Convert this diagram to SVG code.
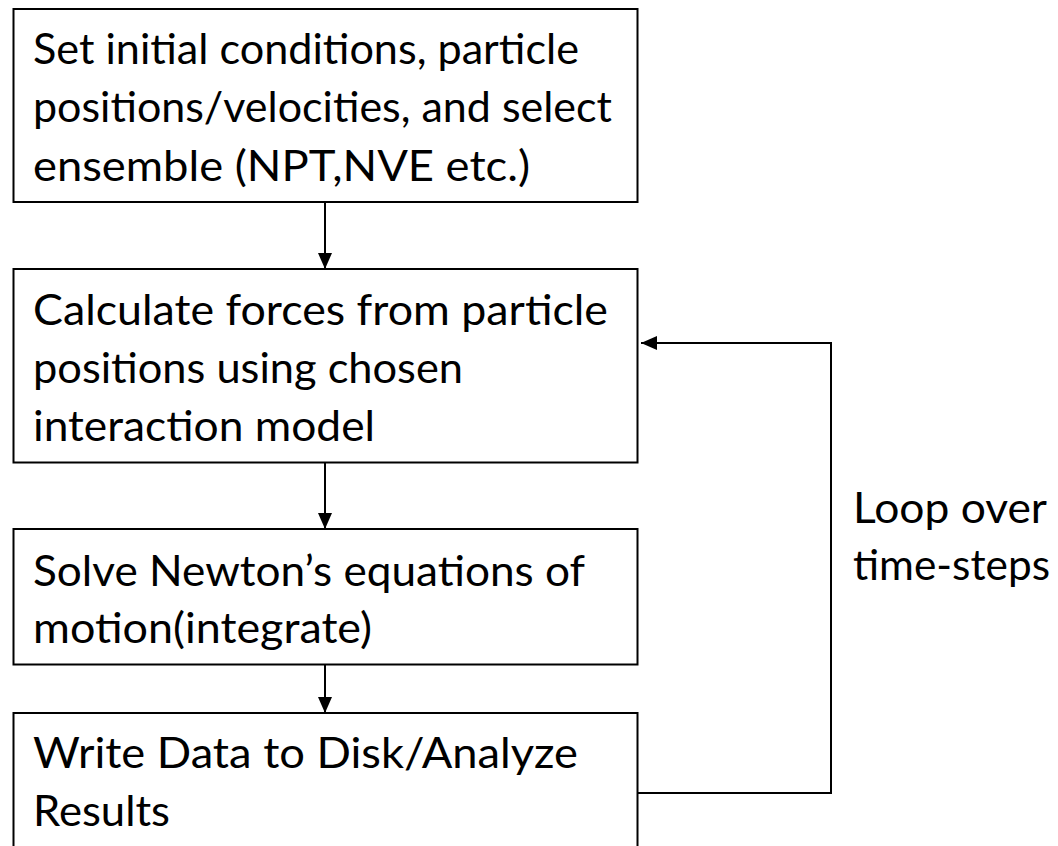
<svg xmlns="http://www.w3.org/2000/svg" width="1058" height="846" viewBox="0 0 1058 846">
  <defs>
    <style>
      .box { fill: #ffffff; stroke: #000000; stroke-width: 2; }
      .lbl { font-family: Lato, "Open Sans", "Liberation Sans", sans-serif; font-size: 43px; fill: #000000; }
      .wire { fill: none; stroke: #000000; stroke-width: 2; }
    </style>
    <marker id="arrow" viewBox="0 0 16 14" refX="16" refY="7" markerWidth="16" markerHeight="14" markerUnits="userSpaceOnUse" orient="auto">
      <path d="M0,0 L16,7 L0,14 Z" fill="#000000"/>
    </marker>
  </defs>
  <rect width="1058" height="846" fill="#ffffff"/>

  <!-- flow connectors -->
  <g id="connectors">
    <line class="wire" x1="325" y1="202" x2="325" y2="269" marker-end="url(#arrow)"/>
    <line class="wire" x1="325" y1="463" x2="325" y2="529" marker-end="url(#arrow)"/>
    <line class="wire" x1="325" y1="665" x2="325" y2="713" marker-end="url(#arrow)"/>
    <polyline class="wire" points="638,793 831,793 831,343 641,343" marker-end="url(#arrow)"/>
  </g>

  <g id="node-init">
    <rect class="box" x="13.5" y="9" width="624" height="193"/>
    <text class="lbl" x="33" y="64" textLength="546" lengthAdjust="spacingAndGlyphs">Set initial conditions, particle</text>
    <text class="lbl" x="33" y="122" textLength="579" lengthAdjust="spacingAndGlyphs">positions/velocities, and select</text>
    <text class="lbl" x="33" y="181" textLength="497" lengthAdjust="spacingAndGlyphs">ensemble (NPT,NVE etc.)</text>
  </g>

  <g id="node-forces">
    <rect class="box" x="13.5" y="269" width="624" height="193.5"/>
    <text class="lbl" x="33" y="325" textLength="575" lengthAdjust="spacingAndGlyphs">Calculate forces from particle</text>
    <text class="lbl" x="33" y="383" textLength="430" lengthAdjust="spacingAndGlyphs">positions using chosen</text>
    <text class="lbl" x="33" y="441" textLength="342" lengthAdjust="spacingAndGlyphs">interaction model</text>
  </g>

  <g id="node-integrate">
    <rect class="box" x="13.5" y="529" width="624" height="135.5"/>
    <text class="lbl" x="33" y="586" textLength="552" lengthAdjust="spacingAndGlyphs">Solve Newton’s equations of</text>
    <text class="lbl" x="33" y="643" textLength="339" lengthAdjust="spacingAndGlyphs">motion(integrate)</text>
  </g>

  <g id="node-output">
    <rect class="box" x="13.5" y="713" width="624" height="150"/>
    <text class="lbl" x="33" y="768" textLength="545" lengthAdjust="spacingAndGlyphs">Write Data to Disk/Analyze</text>
    <text class="lbl" x="33" y="826" textLength="137" lengthAdjust="spacingAndGlyphs">Results</text>
  </g>

  <g id="loop-label">
    <text class="lbl" x="853" y="523" textLength="194" lengthAdjust="spacingAndGlyphs">Loop over</text>
    <text class="lbl" x="853" y="580" textLength="197" lengthAdjust="spacingAndGlyphs">time-steps</text>
  </g>
</svg>
